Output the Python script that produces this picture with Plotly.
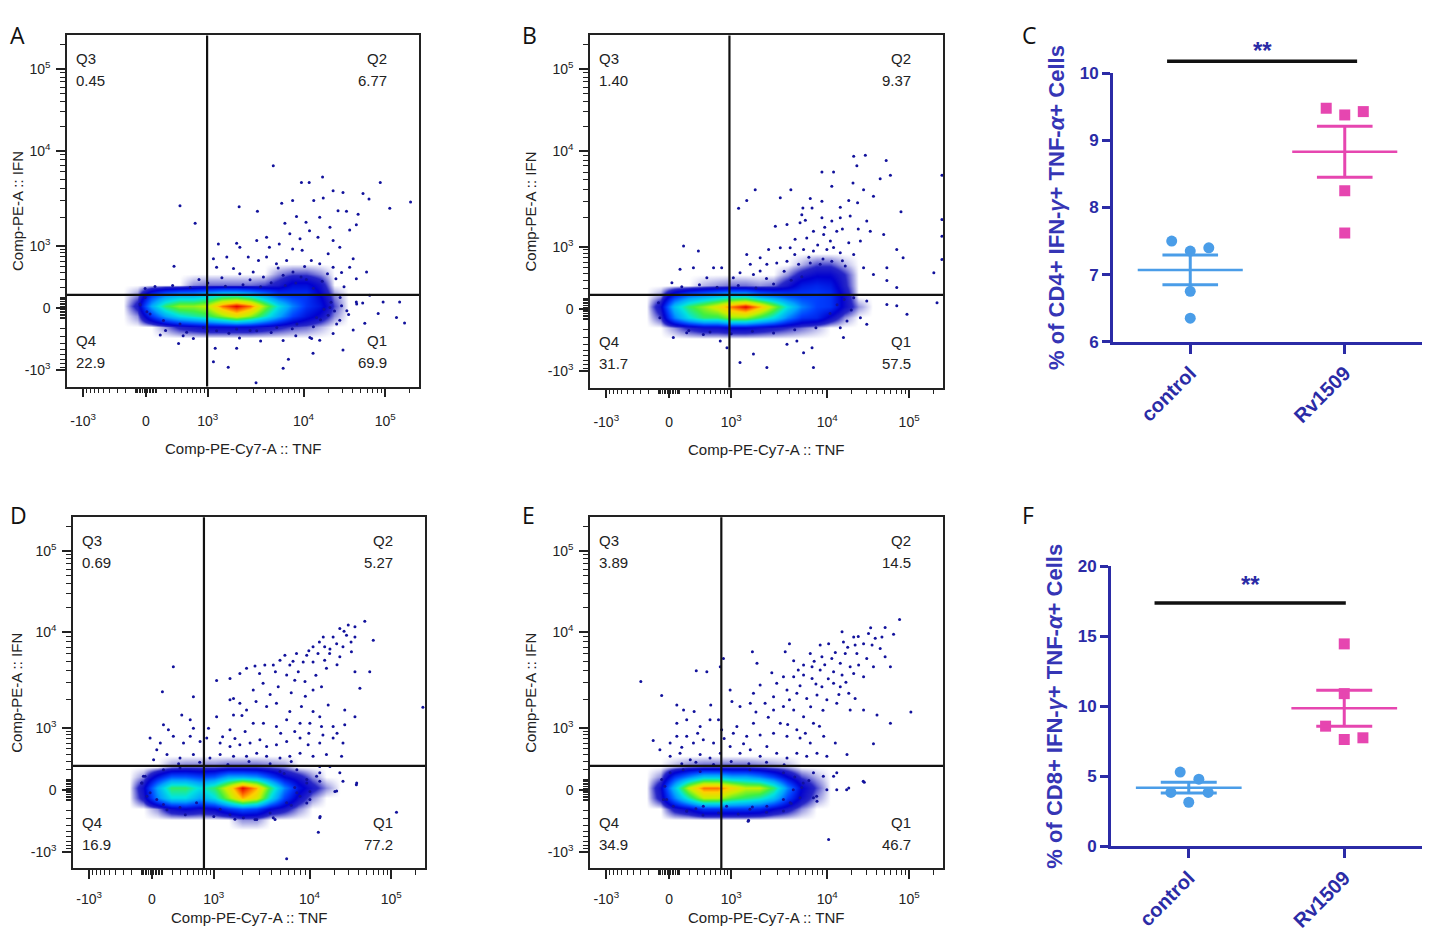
import numpy as np
import plotly.graph_objects as go

# page is 1430x944; the body margins push the figure in, and the page is squeezed
# a little vertically, so reference pixels are mapped onto figure pixels
W, H = 1430, 944
FW, FH = 1414, 928
X_OFF, Y_OFF, Y_SCALE = 8.0, 15.5, 0.982

# ---------------- flow cytometry panels (A, B, D, E) ----------------
# both axes are in biexponential display units (0-100 across the frame)
tick_pos = [4.6, 22.4, 40.0, 67.2, 90.4]
tick_txt = ["-10<sup>3</sup>", "0", "10<sup>3</sup>", "10<sup>4</sup>", "10<sup>5</sup>"]

gate_x = [39.8, 39.5, 37.2, 37.2]
gate_y = [26.1, 26.3, 29.2, 29.2]

q1_vals = ["69.9", "57.5", "77.2", "46.7"]
q2_vals = ["6.77", "9.37", "5.27", "14.5"]
q3_vals = ["0.45", "1.40", "0.69", "3.89"]
q4_vals = ["22.9", "31.7", "16.9", "34.9"]

# density of the main population (0-10), rows bottom -> top
grid_x = [16, 20, 24, 28, 32, 36, 40, 44, 48, 52, 56, 60, 64, 68, 72, 76, 80, 84]
grid_y = [11, 14, 17, 20, 23, 26, 29, 32, 35, 38]
ZERO = [0] * 18

dens_a = [
    ZERO, ZERO,
    [0, 0, 0, 0.3, 0.7, 0.9, 1.1, 1.1, 1.1, 1.1, 0.9, 0.7, 0.5, 0.4, 0.2, 0, 0, 0],
    [0, 0.3, 2, 3.5, 4.5, 5, 5.5, 6.5, 7.5, 6.5, 5, 3.5, 2.2, 1.5, 1, 0.3, 0, 0],
    [0, 0.8, 3.5, 5.5, 6.5, 6.5, 7, 9, 10, 9, 6.5, 4.5, 3, 2, 1.5, 0.5, 0, 0],
    [0, 0.3, 2, 3, 3.5, 3.5, 4, 4.5, 4.5, 4, 3.2, 2.2, 2, 2, 1.2, 0.3, 0, 0],
    [0, 0, 0, 0, 0, 0.3, 0.4, 0.4, 0.4, 0.4, 0.5, 0.8, 1.4, 1.4, 0.9, 0, 0, 0],
    [0, 0, 0, 0, 0, 0, 0, 0, 0, 0, 0, 0.3, 0.5, 0.5, 0.3, 0, 0, 0],
    ZERO, ZERO,
]
dens_b = [
    ZERO, ZERO,
    [0, 0, 0.3, 0.7, 1, 1, 1.2, 1.2, 1, 0.8, 0.6, 0.4, 0.2, 0, 0, 0, 0, 0],
    [0, 0.5, 3, 4.5, 5.5, 5.5, 6.5, 6.5, 5.5, 4.5, 3, 2, 1.8, 1, 0.3, 0, 0, 0],
    [0, 1, 4, 5.5, 6.5, 7.5, 9, 10, 8.5, 6.5, 4.5, 3, 2.2, 2, 1, 0.3, 0, 0],
    [0, 0.3, 2, 3, 3.5, 4, 4.5, 4.5, 3.5, 3, 2.5, 2.2, 2.2, 2, 1, 0, 0, 0],
    [0, 0, 0, 0, 0.2, 0.3, 0.4, 0.4, 0.3, 0.4, 0.9, 1.6, 1.8, 1.6, 0.7, 0, 0, 0],
    [0, 0, 0, 0, 0, 0, 0, 0, 0, 0, 0.3, 0.8, 1.1, 1.1, 0.6, 0, 0, 0],
    [0, 0, 0, 0, 0, 0, 0, 0, 0, 0, 0, 0.2, 0.5, 0.5, 0.2, 0, 0, 0],
    ZERO,
]
dens_d = [
    ZERO,
    [0, 0, 0, 0, 0, 0, 0, 0, 0.3, 0.3, 0, 0, 0, 0, 0, 0, 0, 0],
    [0, 0, 0.3, 1, 1.2, 1, 1.2, 2, 2.5, 2.2, 1.2, 0.8, 0.3, 0, 0, 0, 0, 0],
    [0, 0.8, 3, 4.5, 4.5, 3.5, 4.5, 6.5, 8.5, 7.5, 4.5, 2.2, 1, 0.3, 0, 0, 0, 0],
    [0, 1, 3.5, 5.5, 5.5, 4.5, 5.5, 7.5, 10, 8.5, 5.5, 3, 1.5, 0.8, 0.3, 0, 0, 0],
    [0, 0.3, 1.5, 2.5, 2.5, 2.2, 2.5, 3.5, 3.5, 3.2, 2.2, 1.2, 0.8, 0.3, 0, 0, 0, 0],
    [0, 0, 0, 0.3, 0.4, 0.4, 0.4, 0.5, 0.5, 0.5, 0.4, 0.3, 0, 0, 0, 0, 0, 0],
    ZERO, ZERO, ZERO,
]
dens_e = [
    ZERO, ZERO,
    [0, 0, 0.8, 1.2, 2, 2, 2, 2, 1.8, 1.2, 0.8, 0.3, 0, 0, 0, 0, 0, 0],
    [0, 0.8, 3, 5, 7, 7, 6, 5.5, 5, 4, 2.2, 1, 0.3, 0, 0, 0, 0, 0],
    [0, 1, 4, 7, 9, 9, 8, 7, 7, 5.5, 3, 1.2, 0.5, 0, 0, 0, 0, 0],
    [0, 0.3, 2, 3, 4, 4, 3.5, 3.5, 3, 2.2, 1.2, 0.5, 0.2, 0, 0, 0, 0, 0],
    [0, 0, 0.2, 0.4, 0.5, 0.5, 0.5, 0.5, 0.4, 0.3, 0.2, 0, 0, 0, 0, 0, 0, 0],
    ZERO, ZERO, ZERO,
]

# sparse events outside the main population (x, y)
dots_a = [
    (58.6, 62.9), (32.1, 51.5), (36.4, 46.5), (30.4, 34.3), (72.6, 59.7), (66.6, 58.1),
    (68.8, 58.1), (89.0, 58.1), (75.6, 55.8), (78.4, 55.3), (84.1, 55.0), (85.8, 53.4),
    (97.6, 52.6), (91.7, 50.8), (61.0, 52.2), (64.1, 53.0), (70.1, 53.0), (72.8, 53.7),
    (48.9, 51.2), (54.1, 49.9), (77.0, 50.1), (79.4, 49.9), (82.7, 49.1), (61.9, 46.5),
    (65.2, 48.4), (67.9, 46.8), (71.8, 48.2), (74.7, 45.4), (80.3, 44.6), (82.2, 46.1),
    (63.3, 43.5), (66.2, 42.1), (68.9, 44.4), (71.3, 42.5), (75.6, 41.6), (77.5, 39.7),
    (53.9, 41.6), (56.7, 42.5), (43.0, 40.6), (48.2, 40.8), (49.1, 39.7), (57.5, 39.7),
    (60.3, 40.6), (64.1, 39.2), (66.8, 38.8), (74.2, 37.8), (81.3, 36.4), (41.6, 36.4),
    (45.4, 36.9), (51.5, 36.9), (54.4, 35.9), (56.7, 36.9), (59.5, 35.0), (62.4, 35.9),
    (69.4, 35.9), (71.8, 35.0), (75.6, 34.0), (80.3, 34.0), (85.1, 32.6), (82.2, 30.7),
    (42.5, 34.0), (47.3, 33.6), (49.1, 32.1), (52.9, 32.6), (55.8, 31.2), (61.4, 31.7),
    (64.2, 32.6), (66.5, 31.2), (74.0, 32.1), (76.4, 30.7), (78.7, 28.4), (82.2, 24.1),
    (84.0, 23.8), (89.8, 24.1), (94.5, 24.1), (88.4, 20.8), (93.6, 19.7), (95.9, 18.1),
    (84.6, 18.0), (78.4, 10.4), (69.9, 9.5), (62.9, 7.8), (61.4, 5.2), (53.7, 1.1),
    (48.2, 10.9), (45.8, 5.5), (42.1, 10.9), (41.6, 7.1), (35.9, 13.7), (31.7, 12.3),
    (26.5, 14.7), (75.6, 15.1), (71.8, 13.2), (69.5, 13.7), (81.3, 16.1), (77.5, 18.9),
    (74.2, 20.3), (20.8, 23.2), (22.2, 27.9), (22.7, 21.3), (25.0, 28.5), (30.0, 28.8),
    (35.0, 28.2), (40.0, 29.5), (45.0, 28.6), (50.0, 29.0), (55.0, 28.4), (58.0, 29.6),
    (28.0, 16.0), (34.0, 15.5), (40.0, 15.8), (46.0, 15.2), (52.0, 16.0), (58.0, 15.4),
    (64.0, 16.5), (70.0, 17.0), (73.0, 22.0), (75.0, 24.0), (76.0, 21.5), (78.0, 23.0),
    (72.0, 19.0), (65.0, 29.5), (68.0, 30.5), (70.0, 28.0), (62.0, 28.8), (37.5, 30.5),
    (44.0, 31.0), (52.0, 30.4), (60.0, 33.8), (67.5, 34.2), (72.5, 30.0), (78.0, 32.5),
    (33.0, 14.5), (49.0, 13.8), (55.0, 13.0), (65.0, 14.5), (80.0, 20.5), (86.0, 26.0),
    (20.7, 23.5), (22.2, 25.4), (23.6, 20.7), (27.4, 18.8), (32.1, 17.8), (38.7, 16.8),
    (42.5, 15.9), (48.2, 16.4), (53.9, 15.9), (59.6, 16.8), (65.3, 17.8), (70.9, 19.7),
    (74.7, 22.5), (77.6, 25.4), (79.5, 21.6), (82.3, 23.5), (76.6, 17.8), (69.0, 14.0),
    (61.4, 13.1),
]
dots_b = [
    (74.7, 65.7), (78.0, 66.0), (83.9, 64.5), (75.6, 63.0), (65.7, 61.2), (69.0, 61.2),
    (85.1, 60.3), (99.7, 60.3), (82.2, 59.3), (74.5, 58.1), (68.5, 57.2), (46.8, 56.2),
    (56.9, 56.2), (77.5, 56.2), (80.3, 54.3), (62.4, 53.7), (65.7, 52.9), (73.3, 53.1),
    (75.8, 52.5), (53.9, 53.9), (44.4, 53.1), (60.3, 51.0), (62.9, 51.0), (70.9, 51.2),
    (88.1, 49.9), (42.1, 50.9), (99.7, 47.7), (60.0, 49.1), (65.7, 48.2), (68.5, 47.3),
    (70.9, 48.2), (73.7, 48.7), (78.4, 47.3), (52.5, 45.8), (55.8, 46.3), (59.5, 46.8),
    (63.3, 44.4), (66.2, 43.5), (69.9, 44.4), (79.4, 44.4), (83.2, 43.5), (99.7, 43.0),
    (58.1, 42.1), (61.4, 42.5), (68.1, 41.6), (73.3, 41.1), (76.6, 41.6), (50.6, 39.2),
    (53.9, 39.7), (56.7, 39.7), (60.5, 39.2), (63.3, 38.8), (67.1, 39.2), (70.9, 38.3),
    (74.7, 37.8), (86.9, 39.2), (88.7, 36.9), (99.7, 36.4), (26.5, 40.2), (30.7, 38.8),
    (44.4, 37.8), (48.2, 36.9), (45.4, 35.0), (50.1, 35.0), (52.9, 35.4), (55.8, 35.9),
    (59.1, 35.0), (62.4, 35.4), (65.2, 35.0), (68.5, 35.9), (72.3, 34.5), (77.5, 34.0),
    (84.1, 34.0), (25.5, 33.6), (29.3, 34.0), (35.0, 34.0), (37.3, 34.0), (42.5, 32.6),
    (46.3, 32.1), (48.2, 33.1), (80.3, 32.1), (84.1, 30.4), (97.4, 32.6), (86.9, 28.4),
    (23.2, 29.8), (33.1, 31.2), (40.6, 31.2), (74.7, 25.5), (78.4, 24.6), (84.1, 23.6),
    (86.9, 23.2), (89.8, 20.8), (98.3, 24.1), (76.6, 19.8), (78.4, 18.0), (72.8, 18.9),
    (70.9, 17.0), (62.9, 11.3), (63.3, 5.7), (60.5, 9.9), (50.1, 5.7), (42.5, 7.1),
    (46.3, 9.5), (55.8, 12.3), (58.6, 13.2), (38.8, 11.3), (36.9, 13.2), (32.1, 15.1),
    (27.4, 15.6), (23.6, 14.2), (71.8, 14.2), (19.8, 19.8), (19.4, 24.1), (26.0, 28.6),
    (31.0, 29.2), (36.0, 28.5), (42.0, 29.0), (47.0, 28.3), (52.0, 29.4), (28.0, 16.2),
    (34.0, 15.8), (40.0, 15.3), (46.0, 16.0), (52.0, 15.5), (58.0, 16.4), (64.0, 17.0),
    (68.0, 21.0), (70.0, 23.5), (72.0, 25.0), (74.0, 22.0), (57.0, 30.5), (60.0, 31.5),
    (62.0, 37.0), (64.5, 40.5), (66.0, 36.5), (69.0, 39.8), (71.5, 36.0), (58.0, 37.8),
    (55.0, 33.0), (50.0, 31.0), (66.5, 45.5), (71.5, 45.0), (61.0, 47.5), (76.0, 45.0),
]
dots_d = [
    (82.9, 70.4), (78.2, 69.3), (80.1, 68.8), (75.8, 68.3), (73.9, 65.9), (77.7, 66.4),
    (80.1, 65.9), (85.3, 65.0), (71.1, 65.9), (71.5, 63.1), (74.9, 64.0), (76.7, 63.1),
    (79.1, 61.7), (68.2, 63.1), (69.6, 61.2), (72.9, 61.2), (66.4, 60.7), (63.5, 61.2),
    (65.4, 58.8), (68.2, 58.8), (71.5, 59.3), (75.8, 60.3), (60.2, 60.7), (61.6, 57.9),
    (58.8, 59.3), (56.9, 57.9), (54.5, 57.9), (51.7, 57.6), (49.3, 57.0), (47.4, 55.5),
    (44.6, 54.1), (40.8, 53.5), (45.6, 48.4), (44.6, 48.0), (47.4, 47.0), (51.2, 50.8),
    (54.0, 52.7), (58.3, 51.7), (60.7, 55.1), (63.0, 53.6), (65.9, 53.2), (68.2, 50.8),
    (70.6, 51.7), (80.1, 56.0), (84.3, 56.0), (81.5, 51.3), (99.4, 45.9), (28.5, 57.4),
    (25.4, 50.3), (34.2, 48.9), (30.9, 43.7), (40.8, 43.2), (45.6, 43.7), (49.3, 45.1),
    (55.0, 46.1), (57.8, 47.0), (61.6, 44.7), (64.9, 46.1), (68.2, 44.7), (72.5, 46.5),
    (77.2, 45.1), (80.1, 43.2), (70.1, 43.2), (67.3, 41.3), (70.6, 40.4), (73.9, 40.4),
    (77.2, 40.9), (64.5, 41.3), (60.7, 42.3), (57.8, 40.4), (54.1, 41.3), (51.2, 41.3),
    (44.6, 39.5), (48.9, 39.0), (38.5, 39.9), (25.7, 40.9), (27.1, 39.5), (33.3, 42.3),
    (34.2, 39.9), (21.9, 37.1), (24.8, 35.7), (28.5, 37.6), (31.4, 35.7), (33.3, 37.6),
    (36.1, 36.1), (38.0, 37.1), (41.8, 35.7), (44.6, 34.7), (47.4, 35.2), (50.3, 35.7),
    (53.1, 36.6), (55.0, 34.7), (57.8, 35.2), (60.7, 36.1), (64.5, 37.1), (66.8, 35.2),
    (70.1, 35.7), (73.9, 37.1), (76.7, 35.7), (76.3, 31.9), (72.0, 32.4), (68.2, 31.9),
    (64.5, 32.8), (61.6, 31.9), (58.8, 31.4), (55.0, 31.9), (52.2, 32.8), (49.3, 31.9),
    (45.6, 31.9), (41.8, 32.4), (38.9, 31.4), (34.2, 32.4), (30.4, 31.4), (26.7, 32.4),
    (22.9, 30.9), (23.8, 33.8), (70.1, 29.0), (73.0, 29.0), (75.8, 27.2), (70.1, 27.2),
    (66.4, 25.3), (70.1, 24.8), (76.7, 24.8), (80.5, 23.8), (74.4, 21.9), (67.3, 21.9),
    (64.5, 20.5), (66.4, 18.6), (70.1, 14.4), (69.7, 10.3), (91.9, 16.0), (60.7, 2.7),
    (56.9, 14.4), (51.7, 13.9), (31.9, 15.3), (26.7, 16.7), (21.0, 20.5), (19.6, 24.3),
    (20.0, 26.2), (30.0, 29.8), (36.0, 30.2), (44.0, 29.6), (50.0, 30.4), (56.0, 29.8),
    (62.0, 30.4), (60.0, 27.0), (63.0, 23.0), (62.0, 18.0), (40.0, 14.8), (46.0, 14.0),
    (77.0, 67.5), (79.0, 64.5), (73.0, 62.5), (67.0, 62.0), (70.0, 64.5), (62.5, 59.0),
    (57.5, 56.0), (53.0, 55.5), (64.0, 56.0), (72.0, 57.0), (75.0, 58.0), (69.0, 55.0),
    (66.0, 49.0), (62.0, 50.0), (56.0, 49.5), (52.0, 47.5), (48.0, 43.5), (42.5, 37.5),
    (46.0, 37.0), (59.0, 38.5), (63.0, 39.0), (67.0, 38.5), (71.0, 38.0), (75.0, 38.5),
    (19.5, 24.3), (20.5, 26.2), (21.9, 21.5), (23.8, 19.6), (25.7, 18.2), (30.4, 17.3),
    (35.1, 18.7), (41.8, 16.8), (44.6, 15.3), (48.4, 14.4), (52.2, 13.9), (56.0, 15.8),
    (60.7, 18.7), (63.6, 21.5), (66.4, 24.3), (69.2, 26.2), (67.3, 19.6), (74.9, 22.0),
    (80.6, 24.3), (63.6, 28.1), (58.8, 27.6), (25.7, 28.1), (30.4, 28.6), (57.4, 13.9),
    (70.2, 14.8),
]
dots_e = [
    (87.7, 70.9), (83.6, 68.6), (86.0, 66.7), (82.7, 65.9), (78.9, 66.9), (80.8, 65.5),
    (77.5, 64.0), (79.9, 63.6), (82.2, 62.6), (71.4, 67.4), (74.7, 65.9), (75.1, 63.6),
    (71.8, 64.5), (72.3, 61.2), (75.6, 61.2), (78.4, 59.8), (83.6, 60.3), (85.1, 57.4),
    (80.3, 57.4), (67.6, 64.0), (65.2, 63.6), (62.4, 61.2), (65.7, 60.3), (68.5, 59.8),
    (70.9, 58.4), (73.7, 57.4), (76.1, 57.9), (56.5, 64.0), (55.3, 61.7), (57.7, 59.1),
    (60.5, 57.9), (62.9, 57.4), (65.2, 56.5), (69.0, 56.0), (71.4, 55.1), (74.7, 55.5),
    (77.5, 54.6), (70.9, 51.7), (73.3, 49.9), (75.1, 48.4), (69.0, 52.7), (65.7, 51.7),
    (62.9, 54.1), (60.5, 55.1), (57.7, 54.6), (54.8, 54.6), (52.9, 52.7), (51.5, 55.7),
    (47.3, 58.4), (46.0, 61.7), (48.2, 52.2), (46.3, 49.9), (52.0, 48.9), (55.8, 50.8),
    (58.6, 49.9), (61.4, 48.4), (64.3, 49.4), (67.1, 48.0), (69.9, 47.0), (73.7, 45.1),
    (77.5, 45.1), (81.3, 43.7), (85.1, 41.3), (90.9, 44.5), (80.3, 35.5), (72.8, 32.4),
    (69.5, 35.7), (66.2, 37.6), (63.3, 41.3), (60.5, 43.2), (57.7, 45.1), (54.8, 46.1),
    (52.0, 45.1), (49.6, 47.0), (45.4, 47.0), (42.5, 46.1), (40.2, 47.5), (39.7, 50.8),
    (37.8, 59.8), (36.9, 57.4), (36.4, 42.3), (37.3, 39.5), (33.1, 56.0), (30.1, 56.3),
    (14.4, 53.2), (20.3, 49.2), (24.6, 46.5), (26.5, 45.1), (29.5, 44.7), (34.2, 46.5),
    (24.6, 41.3), (27.4, 42.3), (31.2, 40.4), (34.0, 42.3), (17.9, 36.4), (19.8, 33.8),
    (22.7, 35.7), (24.6, 37.6), (27.4, 37.6), (29.3, 35.7), (32.1, 36.6), (35.0, 35.7),
    (22.7, 31.9), (25.5, 32.8), (28.4, 30.9), (31.2, 32.4), (34.0, 31.4), (36.9, 32.8),
    (39.7, 34.7), (42.5, 32.8), (45.4, 33.8), (48.2, 31.9), (50.1, 34.7), (52.9, 32.8),
    (55.8, 31.4), (58.6, 32.8), (61.4, 31.9), (64.3, 32.8), (67.1, 31.9), (40.6, 38.5),
    (44.4, 37.6), (48.2, 38.0), (52.0, 38.5), (55.8, 37.6), (59.5, 37.1), (62.4, 35.7),
    (41.6, 40.4), (46.3, 41.3), (53.9, 41.3), (58.6, 39.5), (63.3, 27.2), (69.0, 26.2),
    (69.9, 22.4), (67.1, 22.4), (73.3, 22.9), (77.7, 24.5), (63.3, 20.1), (64.3, 19.1),
    (59.5, 20.1), (54.8, 16.3), (44.9, 13.7), (67.6, 8.2), (36.4, 15.8), (27.4, 16.3),
    (20.8, 19.6), (20.3, 25.3), (26.0, 29.8), (30.0, 30.2), (35.0, 29.6), (40.0, 30.4),
    (45.0, 29.8), (50.0, 30.2), (55.0, 29.5), (58.0, 26.0), (60.0, 23.0), (57.0, 18.5),
    (50.0, 16.0), (32.0, 15.2), (42.0, 15.5), (62.0, 25.0), (30.0, 17.0), (46.0, 17.5),
    (79.5, 68.5), (76.0, 66.0), (73.0, 63.0), (69.5, 61.5), (66.5, 58.0), (63.5, 59.0),
    (59.0, 56.5), (67.5, 54.0), (72.5, 53.0), (64.0, 52.5), (59.5, 52.0), (56.5, 48.0),
    (62.5, 46.0), (66.0, 45.0), (70.5, 49.5), (50.5, 43.0), (47.0, 44.5), (56.0, 41.0),
    (61.0, 38.5), (65.0, 40.5), (43.5, 35.5), (38.0, 37.0), (26.0, 34.5), (30.5, 38.5),
    (21.2, 23.4), (21.7, 19.6), (23.6, 17.7), (27.4, 16.3), (32.1, 17.7), (38.7, 17.7),
    (45.3, 16.8), (50.1, 17.7), (54.8, 19.6), (57.6, 22.4), (60.4, 24.3), (64.2, 20.5),
    (66.1, 26.2), (69.9, 27.2), (77.4, 24.8), (72.7, 22.4), (22.7, 27.2), (26.4, 28.1),
    (31.2, 27.6), (45.3, 28.1), (54.8, 27.2), (44.8, 13.4), (56.7, 18.7),
]

# ---------------- dot plots (C, F) ----------------
groups = ["control", "Rv1509"]
c_control = [7.5, 7.35, 7.4, 6.75, 6.35]
c_control_dx = [-0.12, 0.0, 0.12, 0.0, 0.0]
c_rv = [9.48, 9.38, 9.43, 8.25, 7.62]
c_rv_dx = [-0.12, 0.0, 0.12, 0.0, 0.0]
f_control = [5.3, 4.8, 3.85, 3.85, 3.15]
f_control_dx = [-0.055, 0.065, -0.115, 0.125, 0.0]
f_rv = [14.45, 10.9, 8.58, 7.63, 7.75]
f_rv_dx = [0.0, 0.0, -0.12, 0.0, 0.12]

BLUE = "#4a9de8"
PINK = "#e646b0"
AXBLUE = "#2b2ba6"
FLOW_FONT = "Liberation Sans"
DOT_FONT = "Liberation Sans"

flow_scale = [
    [0.0, "rgba(0,0,180,0)"], [0.02, "rgba(0,0,180,0.3)"], [0.06, "rgba(0,0,190,0.85)"],
    [0.12, "#0000d0"], [0.22, "#0040ff"], [0.34, "#00a4ff"], [0.46, "#00e4e0"],
    [0.58, "#40f040"], [0.7, "#c8f000"], [0.82, "#ffd000"], [0.9, "#ff7000"], [1.0, "#e80000"],
]


def minor_ticks():
    neg, zero, p3, p4, p5 = tick_pos
    vals = []
    norm = np.arcsinh(1000 / 300)
    for v in list(range(15, 100, 15)) + list(range(100, 1000, 100)):
        f = np.arcsinh(v / 300) / norm
        vals += [zero + f * (p3 - zero), zero - f * (zero - neg)]
    for lo, hi in ((p3, p4), (p4, p5)):
        vals += [lo + np.log10(m) * (hi - lo) for m in range(2, 10)]
    vals.append(p5 + np.log10(2) * (p5 - p4))
    return sorted(vals)


def fx(p):
    # reference pixel column -> paper x
    return (p - X_OFF) / FW


def fy(p):
    # reference pixel row -> paper y
    return 1 - (p - Y_OFF) / Y_SCALE / FH


fig = go.Figure()

# frame boxes in pixels of the reference: (left, top, right, bottom)
flow_panels = [
    ("x", "y", (67, 34, 419, 386), dens_a, dots_a, 10, 12),
    ("x2", "y2", (590, 34, 943, 387), dens_b, dots_b, 531, 12),
    ("x4", "y4", (73, 517, 425, 869), dens_d, dots_d, 15, 8),
    ("x5", "y5", (590, 517, 943, 869), dens_e, dots_e, 531, 8),
]
minors = minor_ticks()
shapes, annotations = [], []

for i, (xa, ya, box, dens, dots, ytitle_px, standoff) in enumerate(flow_panels):
    fig.add_trace(go.Heatmap(
        x=grid_x, y=grid_y, z=dens, zmin=0, zmax=10, zsmooth="best",
        colorscale=flow_scale, showscale=False, hoverinfo="skip",
        xaxis=xa, yaxis=ya))
    fig.add_trace(go.Scatter(
        x=[p[0] for p in dots], y=[p[1] for p in dots], mode="markers",
        marker=dict(size=3, color="#12129c"), hoverinfo="skip",
        xaxis=xa, yaxis=ya))

    ax_common = dict(
        range=[0, 100], showgrid=False, zeroline=False, showline=True, mirror=True,
        linecolor="#222", linewidth=1.5, ticks="outside", ticklen=9, tickwidth=1.5,
        tickcolor="#222", tickmode="array", tickvals=tick_pos, ticktext=tick_txt,
        tickfont=dict(family=FLOW_FONT, size=14, color="#222"),
        minor=dict(tickmode="array", tickvals=minors, ticks="outside", ticklen=5,
                   tickwidth=1.2, tickcolor="#222"),
    )
    l, t, r, b = box
    key = xa.replace("x", "")
    fig.update_layout(**{
        "xaxis" + key: dict(ax_common, domain=[fx(l), fx(r)], anchor=ya,
                            ticklabelstandoff=standoff),
        "yaxis" + key: dict(ax_common, domain=[fy(b), fy(t)], anchor=xa, ticklabelstandoff=3),
    })

    # quadrant gates
    shapes.append(dict(type="line", xref=xa, yref=ya + " domain", x0=gate_x[i], x1=gate_x[i],
                       y0=0, y1=1, line=dict(color="#111", width=2.2)))
    shapes.append(dict(type="line", xref=xa + " domain", yref=ya, x0=0, x1=1,
                       y0=gate_y[i], y1=gate_y[i], line=dict(color="#111", width=2.2)))

    qfont = dict(family=FLOW_FONT, size=15, color="#222")
    for txt, xx, yy, anc in (
        ("Q3", 0.02, 0.935, "left"), (q3_vals[i], 0.02, 0.872, "left"),
        ("Q2", 0.915, 0.935, "right"), (q2_vals[i], 0.915, 0.872, "right"),
        ("Q4", 0.02, 0.131, "left"), (q4_vals[i], 0.02, 0.068, "left"),
        ("Q1", 0.915, 0.131, "right"), (q1_vals[i], 0.915, 0.068, "right"),
    ):
        annotations.append(dict(text=txt, xref=xa + " domain", yref=ya + " domain", x=xx, y=yy,
                                xanchor=anc, yanchor="middle", showarrow=False, font=qfont))
    # axis titles, kept inside the drawable page
    annotations.append(dict(text="Comp-PE-Cy7-A :: TNF", xref="paper", yref="paper",
                            x=fx((l + r) / 2), y=max(fy(b + 62), 8.5 / FH), showarrow=False,
                            xanchor="center", yanchor="middle",
                            font=dict(family=FLOW_FONT, size=15, color="#222")))
    annotations.append(dict(text="Comp-PE-A :: IFN", xref="paper", yref="paper",
                            x=max(fx(ytitle_px), 9 / FW), y=fy((t + b) / 2), textangle=-90,
                            showarrow=False, xanchor="center", yanchor="middle",
                            font=dict(family=FLOW_FONT, size=15, color="#222")))

# dot plots
dot_panels = [
    ("x3", "y3", (1113, 72, 1422, 341), [6, 10], 1, c_control, c_control_dx, c_rv, c_rv_dx,
     "% of CD4+ IFN-<i>γ</i>+ TNF-<i>α</i>+ Cells", (-0.15, 1.08, 1.045), 1.085),
    ("x6", "y6", (1111, 566, 1422, 847), [0, 20], 5, f_control, f_control_dx, f_rv, f_rv_dx,
     "% of CD8+ IFN-<i>γ</i>+ TNF-<i>α</i>+ Cells", (-0.22, 1.01, 0.868), 0.935),
]
for xa, ya, box, yr, dt, cy, cdx, ry, rdx, ytitle, bar, star_y in dot_panels:
    for xi, vals, dx, color, sym in ((0, cy, cdx, BLUE, "circle"), (1, ry, rdx, PINK, "square")):
        fig.add_trace(go.Scatter(
            x=[xi + d for d in dx], y=vals, mode="markers",
            marker=dict(symbol=sym, size=11, color=color), xaxis=xa, yaxis=ya, cliponaxis=False))
        m = float(np.mean(vals))
        s = float(np.std(vals, ddof=1) / np.sqrt(len(vals)))
        fig.add_trace(go.Scatter(x=[xi - 0.34, xi + 0.34], y=[m, m], mode="lines",
                                 line=dict(color=color, width=2.5), xaxis=xa, yaxis=ya))
        fig.add_trace(go.Scatter(
            x=[xi - 0.18, xi + 0.18, None, xi - 0.18, xi + 0.18, None, xi, xi],
            y=[m + s, m + s, None, m - s, m - s, None, m - s, m + s],
            mode="lines", line=dict(color=color, width=3), xaxis=xa, yaxis=ya))
    l, t, r, b = box
    key = xa.replace("x", "")
    tfont = dict(family=DOT_FONT, size=17, color=AXBLUE, weight="bold")
    cfont = dict(family=DOT_FONT, size=20, color=AXBLUE, weight="bold")
    fig.update_layout(**{
        "xaxis" + key: dict(domain=[fx(l), fx(r)], anchor=ya, range=[-0.5, 1.5], tickmode="array",
                            tickvals=[0, 1], ticktext=groups, tickangle=-45, ticks="outside",
                            ticklen=9, tickwidth=3, tickcolor=AXBLUE, showline=True,
                            linecolor=AXBLUE, linewidth=3, showgrid=False, zeroline=False,
                            tickfont=cfont),
        "yaxis" + key: dict(domain=[fy(b), fy(t)], anchor=xa, range=yr, dtick=dt, ticks="outside",
                            ticklen=8, tickwidth=3, tickcolor=AXBLUE, showline=True,
                            linecolor=AXBLUE, linewidth=3, showgrid=False, zeroline=False,
                            tickfont=tfont, title=dict(text=ytitle, standoff=9,
                                                       font=dict(family=DOT_FONT, size=22,
                                                                 color="#3535b5", weight="bold"))),
    })
    shapes.append(dict(type="line", xref=xa, yref=ya + " domain", x0=bar[0], x1=bar[1],
                       y0=bar[2], y1=bar[2], line=dict(color="#111", width=3.5)))
    annotations.append(dict(text="**", xref=xa, yref=ya + " domain", x=(bar[0] + bar[1]) / 2,
                            y=star_y, showarrow=False, xanchor="center", yanchor="middle",
                            font=dict(family=DOT_FONT, size=24, color=AXBLUE, weight="bold")))

# panel letters, pinned to the top of the drawable page
for letter, px, py in (("A", 5, 7), ("B", 520, 7), ("C", 1020, 7),
                       ("D", 5, 497), ("E", 520, 497), ("F", 1020, 497)):
    annotations.append(dict(text=letter, xref="paper", yref="paper", x=max(fx(px), 0),
                            y=min(fy(py), 1), xanchor="left", yanchor="top", showarrow=False,
                            font=dict(family="Open Sans", size=23, color="#111")))

fig.update_layout(
    width=FW, height=FH, margin=dict(l=0, r=0, t=0, b=0),
    paper_bgcolor="white", plot_bgcolor="white", showlegend=False,
    shapes=shapes, annotations=annotations,
)

fig.write_html("out.html")
